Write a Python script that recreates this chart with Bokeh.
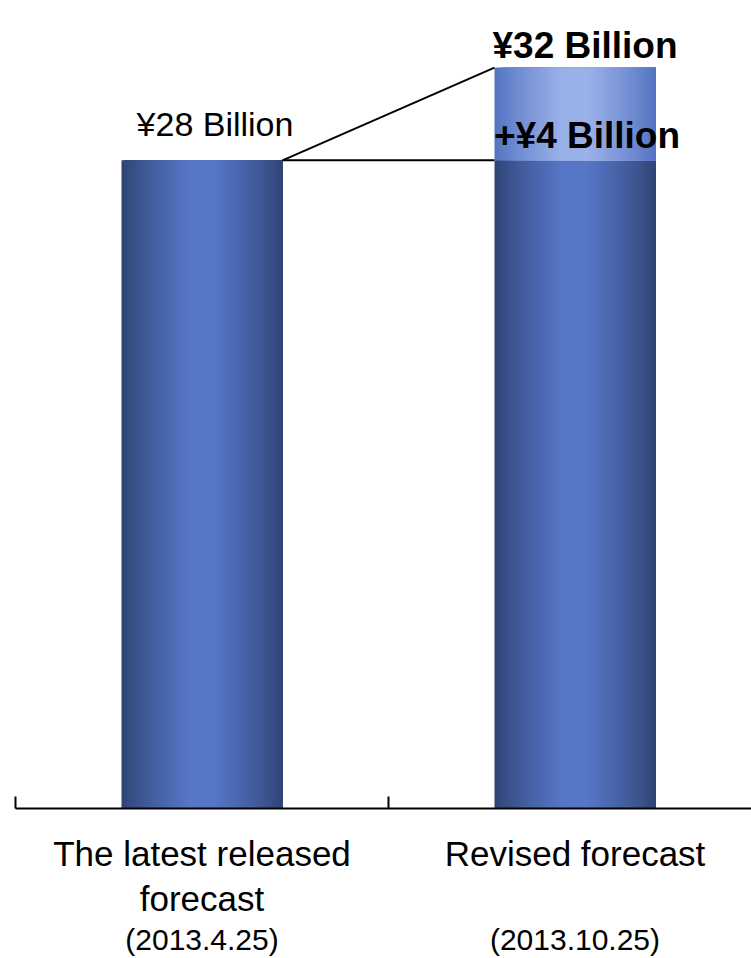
from bokeh.plotting import figure
from bokeh.models import Range1d, FixedTicker, LinearAxis, Label
from bokeh.embed import file_html
from bokeh.resources import INLINE

# ---- data ----
categories = ["The latest released\nforecast", "Revised forecast"]
dates = ["(2013.4.25)", "(2013.10.25)"]
base_values = [28, 28]
increments = [0, 4]
total_labels = ["¥28 Billion", "¥32 Billion"]
increment_label = "+¥4 Billion"
boundaries = [0, 1, 2]

# ---- geometry (styling) ----
W, H = 751, 958
left_pad = 15
base_px = 809
px_x = 373.0              # pixels per category
px_y = (base_px - 160) / 28.0
bar_w = 161 / px_x
N = 80
FONT = "Liberation Sans"

p = figure(width=W, height=H, output_backend="svg", toolbar_location=None,
           x_range=Range1d(0, (W - left_pad) / px_x),
           y_range=Range1d(0, base_px / px_y),
           min_border_left=left_pad, min_border_right=0, min_border_top=0,
           min_border_bottom=H - base_px, y_axis_location=None)
p.outline_line_color = None
p.xgrid.grid_line_color = None
p.ygrid.grid_line_color = None
p.background_fill_color = "white"
p.border_fill_color = "white"

ax = p.xaxis[0]
ax.ticker = FixedTicker(ticks=boundaries)
ax.major_label_overrides = {b: "" for b in boundaries}
ax.major_label_text_font_size = "0px"
ax.major_label_standoff = 0
ax.axis_line_color = "black"
ax.axis_line_width = 2
ax.major_tick_line_color = "black"
ax.major_tick_line_width = 2
ax.major_tick_in = 12
ax.major_tick_out = 0
ax.minor_tick_line_color = None

cat_pos = [i + 0.5 for i in range(len(categories))]

ax2 = LinearAxis(ticker=FixedTicker(ticks=cat_pos),
                 major_label_overrides={c: t for c, t in zip(cat_pos, categories)},
                 axis_line_color=None, major_tick_line_color=None,
                 minor_tick_line_color=None, major_label_standoff=19,
                 major_label_text_font=FONT, major_label_text_font_size="35px",
                 major_label_text_color="black", major_label_text_line_height=1.17)
p.add_layout(ax2, "below")

ax3 = LinearAxis(ticker=FixedTicker(ticks=cat_pos),
                 major_label_overrides={c: t for c, t in zip(cat_pos, dates)},
                 axis_line_color=None, major_tick_line_color=None,
                 minor_tick_line_color=None, major_label_standoff=-5,
                 major_label_text_font=FONT, major_label_text_font_size="30px",
                 major_label_text_color="black")
p.add_layout(ax3, "below")


def mix(c1, c2, t):
    return "#%02x%02x%02x" % tuple(int(round(a + (b - a) * t)) for a, b in zip(c1, c2))


dark_edge, dark_mid = (0x2f, 0x42, 0x72), (0x56, 0x76, 0xc6)
lite_edge, lite_mid = (0x50, 0x70, 0xc0), (0x9a, 0xb0, 0xe8)

for i, (b, inc) in enumerate(zip(base_values, increments)):
    c = i + 0.5
    lefts, rights, cols_d, cols_l = [], [], [], []
    for k in range(N):
        f0 = k / N
        fm = (k + 0.5) / N
        t = 1 - abs(2 * fm - 1)
        t = min(1.0, t ** 0.8 * 1.15)
        lefts.append(c - bar_w / 2 + f0 * bar_w)
        rights.append(c + bar_w / 2)   # overlapping slices: no seams
        cols_d.append(mix(dark_edge, dark_mid, t))
        cols_l.append(mix(lite_edge, lite_mid, t))
    p.quad(left=lefts, right=rights, bottom=[0] * N, top=[b] * N,
           fill_color=cols_d, line_color=None)
    if inc:
        p.quad(left=lefts, right=rights, bottom=[b] * N, top=[b + inc] * N,
               fill_color=cols_l, line_color=None)

# connector lines
x0 = 0.5 + bar_w / 2
x1 = 1.5 - bar_w / 2
p.segment(x0=[x0, x0], y0=[base_values[0], base_values[0]],
          x1=[x1, x1], y1=[base_values[1] + increments[1], base_values[1]],
          line_color="black", line_width=2)

# value labels
p.add_layout(Label(x=0.5 + 13 / px_x, y=base_values[0] + increments[0] + 36 / px_y,
                   text=total_labels[0], text_align="center", text_baseline="alphabetic",
                   text_font=FONT, text_font_size="34px", text_color="black"))
p.add_layout(Label(x=1.5 + 10 / px_x, y=base_values[1] + increments[1] + 22 / px_y,
                   text=total_labels[1], text_align="center", text_baseline="alphabetic",
                   text_font=FONT, text_font_style="bold", text_font_size="37px",
                   text_color="black"))
p.add_layout(Label(x=1.5 + 12 / px_x, y=base_values[1] + 25 / px_y,
                   text=increment_label, text_align="center", text_baseline="alphabetic",
                   text_font=FONT, text_font_style="bold", text_font_size="37px",
                   text_color="black"))

open("out.html", "w").write(file_html(p, INLINE))
